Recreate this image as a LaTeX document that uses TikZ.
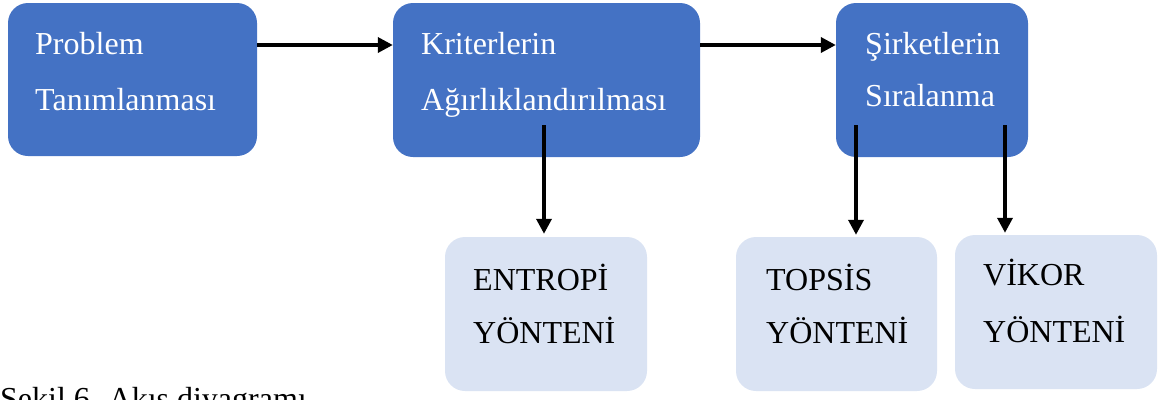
\documentclass[tikz,border=0pt]{standalone}
\usepackage{fontspec}
\setmainfont{Liberation Serif}
\usetikzlibrary{arrows.meta}
\definecolor{darkbox}{HTML}{4472C4}
\definecolor{lightbox}{HTML}{DAE3F3}
\tikzset{
  boxbase/.style={rectangle, rounded corners=20pt, draw=none, inner sep=0pt},
  darkstep/.style={boxbase, fill=darkbox},
  lightstep/.style={boxbase, fill=lightbox},
  whitetext/.style={anchor=base west, inner sep=0pt, text=white, font=\fontsize{32}{38}\selectfont},
  blacktext/.style={anchor=base west, inner sep=0pt, text=black, font=\fontsize{32}{38}\selectfont},
  arr/.style={line width=3.5pt, -{Triangle[length=15pt,width=15pt]}},
}
\begin{document}
\begin{tikzpicture}[x=1pt,y=-1pt]
\useasboundingbox (0,0) rectangle (1170,399);
% boxes
\node[darkstep, minimum width=249pt, minimum height=153pt] (A) at (132.5,79.5) {};
\node[darkstep, minimum width=307pt, minimum height=154pt] (B) at (546.5,80) {};
\node[darkstep, minimum width=192pt, minimum height=154pt] (C) at (932,80) {};
\node[lightstep, minimum width=202pt, minimum height=154pt] (D) at (546,314) {};
\node[lightstep, minimum width=201pt, minimum height=154pt] (E) at (836.5,314) {};
\node[lightstep, minimum width=202pt, minimum height=154pt] (F) at (1056,312) {};
% texts
\node[whitetext] (a1) at (35,54) {Problem};
\node[whitetext] (a2) at (35,110) {Tanımlanması};
\node[whitetext] (b1) at (421,54) {Kriterlerin};
\node[whitetext] (b2) at (421,110) {Ağırlıklandırılması};
\node[whitetext] (c1) at (865,54) {Şirketlerin};
\node[whitetext] (c2) at (865,106) {Sıralanma};
\node[blacktext] (d1) at (473,290) {ENTROPİ};
\node[blacktext] (d2) at (473,343) {YÖNTENİ};
\node[blacktext] (e1) at (766,290) {TOPSİS};
\node[blacktext] (e2) at (766,343) {YÖNTENİ};
\node[blacktext] (f1) at (983,285) {VİKOR};
\node[blacktext] (f2) at (983,342) {YÖNTENİ};
\node[blacktext] (cap) at (0,409) {Şekil 6. Akış diyagramı};
% connectors
\coordinate (ab) at (257,45);
\coordinate (bc) at (700,45);
\coordinate (bd) at (544,125);
\coordinate (ce) at (856,125);
\coordinate (cf) at (1005,125);
\draw[arr] (ab) -- (ab -| B.west);
\draw[arr] (bc) -- (bc -| C.west);
\draw[arr, shorten >=3pt] (bd) -- (bd |- D.north);
\draw[arr, shorten >=2pt] (ce) -- (ce |- E.north);
\draw[arr, shorten >=2pt] (cf) -- (cf |- F.north);
\end{tikzpicture}
\end{document}
